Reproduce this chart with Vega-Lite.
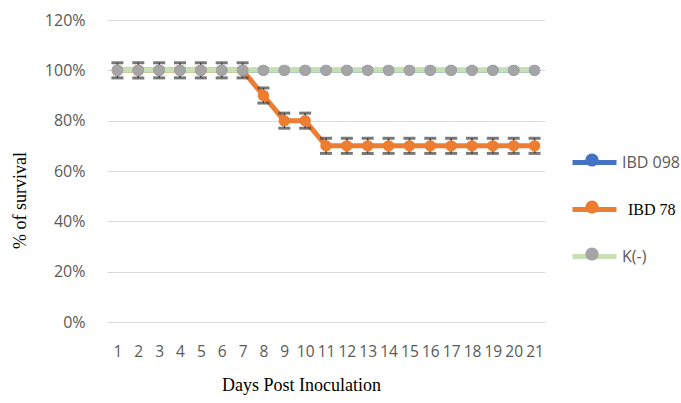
{
  "$schema": "https://vega.github.io/schema/vega-lite/v6.json",
  "width": 438,
  "height": 302,
  "autosize": "none",
  "padding": {"left": 107, "top": 20, "right": 136, "bottom": 81},
  "background": "white",
  "config": {"view": {"stroke": null}},
  "data": {"values": [
    {"day": 1, "series": "IBD 098", "value": 1.0}, {"day": 2, "series": "IBD 098", "value": 1.0}, {"day": 3, "series": "IBD 098", "value": 1.0},
    {"day": 4, "series": "IBD 098", "value": 1.0}, {"day": 5, "series": "IBD 098", "value": 1.0}, {"day": 6, "series": "IBD 098", "value": 1.0},
    {"day": 7, "series": "IBD 098", "value": 1.0}, {"day": 8, "series": "IBD 098", "value": 1.0}, {"day": 9, "series": "IBD 098", "value": 1.0},
    {"day": 10, "series": "IBD 098", "value": 1.0}, {"day": 11, "series": "IBD 098", "value": 1.0}, {"day": 12, "series": "IBD 098", "value": 1.0},
    {"day": 13, "series": "IBD 098", "value": 1.0}, {"day": 14, "series": "IBD 098", "value": 1.0}, {"day": 15, "series": "IBD 098", "value": 1.0},
    {"day": 16, "series": "IBD 098", "value": 1.0}, {"day": 17, "series": "IBD 098", "value": 1.0}, {"day": 18, "series": "IBD 098", "value": 1.0},
    {"day": 19, "series": "IBD 098", "value": 1.0}, {"day": 20, "series": "IBD 098", "value": 1.0}, {"day": 21, "series": "IBD 098", "value": 1.0},
    {"day": 1, "series": "IBD 78", "value": 1.0, "lo": 0.97, "hi": 1.03}, {"day": 2, "series": "IBD 78", "value": 1.0, "lo": 0.97, "hi": 1.03},
    {"day": 3, "series": "IBD 78", "value": 1.0, "lo": 0.97, "hi": 1.03}, {"day": 4, "series": "IBD 78", "value": 1.0, "lo": 0.97, "hi": 1.03},
    {"day": 5, "series": "IBD 78", "value": 1.0, "lo": 0.97, "hi": 1.03}, {"day": 6, "series": "IBD 78", "value": 1.0, "lo": 0.97, "hi": 1.03},
    {"day": 7, "series": "IBD 78", "value": 1.0, "lo": 0.97, "hi": 1.03}, {"day": 8, "series": "IBD 78", "value": 0.9, "lo": 0.87, "hi": 0.93},
    {"day": 9, "series": "IBD 78", "value": 0.8, "lo": 0.77, "hi": 0.83}, {"day": 10, "series": "IBD 78", "value": 0.8, "lo": 0.77, "hi": 0.83},
    {"day": 11, "series": "IBD 78", "value": 0.7, "lo": 0.67, "hi": 0.73}, {"day": 12, "series": "IBD 78", "value": 0.7, "lo": 0.67, "hi": 0.73},
    {"day": 13, "series": "IBD 78", "value": 0.7, "lo": 0.67, "hi": 0.73}, {"day": 14, "series": "IBD 78", "value": 0.7, "lo": 0.67, "hi": 0.73},
    {"day": 15, "series": "IBD 78", "value": 0.7, "lo": 0.67, "hi": 0.73}, {"day": 16, "series": "IBD 78", "value": 0.7, "lo": 0.67, "hi": 0.73},
    {"day": 17, "series": "IBD 78", "value": 0.7, "lo": 0.67, "hi": 0.73}, {"day": 18, "series": "IBD 78", "value": 0.7, "lo": 0.67, "hi": 0.73},
    {"day": 19, "series": "IBD 78", "value": 0.7, "lo": 0.67, "hi": 0.73}, {"day": 20, "series": "IBD 78", "value": 0.7, "lo": 0.67, "hi": 0.73},
    {"day": 21, "series": "IBD 78", "value": 0.7, "lo": 0.67, "hi": 0.73},
    {"day": 1, "series": "K(-)", "value": 1.0}, {"day": 2, "series": "K(-)", "value": 1.0}, {"day": 3, "series": "K(-)", "value": 1.0},
    {"day": 4, "series": "K(-)", "value": 1.0}, {"day": 5, "series": "K(-)", "value": 1.0}, {"day": 6, "series": "K(-)", "value": 1.0},
    {"day": 7, "series": "K(-)", "value": 1.0}, {"day": 8, "series": "K(-)", "value": 1.0}, {"day": 9, "series": "K(-)", "value": 1.0},
    {"day": 10, "series": "K(-)", "value": 1.0}, {"day": 11, "series": "K(-)", "value": 1.0}, {"day": 12, "series": "K(-)", "value": 1.0},
    {"day": 13, "series": "K(-)", "value": 1.0}, {"day": 14, "series": "K(-)", "value": 1.0}, {"day": 15, "series": "K(-)", "value": 1.0},
    {"day": 16, "series": "K(-)", "value": 1.0}, {"day": 17, "series": "K(-)", "value": 1.0}, {"day": 18, "series": "K(-)", "value": 1.0},
    {"day": 19, "series": "K(-)", "value": 1.0}, {"day": 20, "series": "K(-)", "value": 1.0}, {"day": 21, "series": "K(-)", "value": 1.0}
  ]},
  "encoding": {
    "x": {
      "field": "day", "type": "quantitative",
      "scale": {"domain": [0.5, 21.5], "nice": false, "zero": false},
      "axis": {
        "values": [1,2,3,4,5,6,7,8,9,10,11,12,13,14,15,16,17,18,19,20,21],
        "format": "d", "grid": false, "domain": false, "ticks": false,
        "labelOverlap": false, "labelFlush": false, "labelPadding": 22,
        "labelFont": "Open Sans", "labelFontSize": 15.5, "labelColor": "#595959",
        "title": "Days Post Inoculation", "titleFont": "Liberation Serif", "titleFontSize": 18,
        "titleFontWeight": "normal", "titleColor": "#000000", "titleX": 194, "titleY": 63, "titleBaseline": "middle"
      }
    },
    "y": {
      "field": "value", "type": "quantitative",
      "scale": {"domain": [0, 1.2], "nice": false},
      "axis": {
        "values": [0, 0.2, 0.4, 0.6, 0.8, 1.0, 1.2], "format": ".0%",
        "grid": true, "gridColor": "#D9D9D9", "gridWidth": 1.2, "domain": false, "ticks": false,
        "labelPadding": 22, "labelFont": "Open Sans", "labelFontSize": 16, "labelColor": "#595959",
        "title": "% of survival", "titleFont": "Liberation Serif", "titleFontSize": 18,
        "titleFontWeight": "normal", "titleColor": "#000000", "titleX": -87, "titleY": 180,
        "titleAngle": -90, "titleBaseline": "middle", "titleAlign": "center"
      }
    }
  },
  "layer": [
    {
      "transform": [{"filter": "datum.series === 'IBD 098'"}],
      "mark": {"type": "line", "strokeWidth": 5},
      "encoding": {"color": {"field": "series", "type": "nominal",
        "scale": {"range": ["#4472C4", "#ED7D31", "#C6E0B4"]},
        "legend": {"orient": "none", "legendX": 463, "legendY": 118, "title": null, "padding": 0,
          "symbolType": "M-1,0H1", "symbolSize": 1936, "symbolStrokeWidth": 5,
          "rowPadding": 12, "labelOffset": 3, "labelColor": "#000000", "labelFontSize": 16, "labelFont": "Open Sans",
          "encode": {"labels": {"update": {
            "font": {"signal": "datum.value === 'IBD 78' ? 'Liberation Serif' : 'Open Sans'"},
            "dx": {"signal": "datum.value === 'IBD 78' ? 6 : 0"},
            "fill": {"signal": "datum.value === 'IBD 78' ? '#000000' : '#595959'"}
          }}}
        }}}
    },
    {
      "transform": [{"filter": "datum.series === 'IBD 78'"}],
      "mark": {"type": "line", "strokeWidth": 5},
      "encoding": {"color": {"field": "series", "type": "nominal"}}
    },
    {
      "transform": [{"filter": "datum.series === 'K(-)'"}],
      "mark": {"type": "line", "strokeWidth": 5},
      "encoding": {"color": {"field": "series", "type": "nominal"}}
    },
    {
      "transform": [{"filter": "datum.series === 'IBD 78'"}],
      "mark": {"type": "errorbar", "color": "#404040", "ticks": {"size": 12, "thickness": 3}, "rule": {"strokeWidth": 1.5}},
      "encoding": {
        "y": {"field": "lo", "type": "quantitative", "title": "% of survival"},
        "y2": {"field": "hi"}
      }
    },
    {
      "transform": [{"filter": "datum.series === 'IBD 098'"}],
      "mark": {"type": "point", "filled": true, "size": 130, "opacity": 1, "strokeWidth": 0},
      "encoding": {"fill": {"field": "series", "type": "nominal",
        "scale": {"domain": ["IBD 098", "IBD 78", "K(-)"], "range": ["#4472C4", "#ED7D31", "#A5A5A5"]},
        "legend": {"orient": "none", "legendX": 463, "legendY": 118, "title": null, "padding": 0,
          "symbolType": "M0.3,0A0.3,0.3,0,1,1,-0.3,0A0.3,0.3,0,1,1,0.3,0Z", "symbolSize": 1936,
          "symbolStrokeWidth": 0, "symbolOpacity": 1,
          "rowPadding": 17, "labelOffset": 3, "labelFontSize": 16, "labelFont": "Open Sans",
          "encode": {
            "labels": {"update": {
              "font": {"signal": "datum.value === 'IBD 78' ? 'Liberation Serif' : 'Open Sans'"},
              "dx": {"signal": "datum.value === 'IBD 78' ? 6 : 0"},
              "opacity": {"value": 0}
            }}}
        }}}
    },
    {
      "transform": [{"filter": "datum.series === 'IBD 78'"}],
      "mark": {"type": "point", "filled": true, "size": 130, "opacity": 1, "strokeWidth": 0},
      "encoding": {"fill": {"field": "series", "type": "nominal"}}
    },
    {
      "transform": [{"filter": "datum.series === 'K(-)'"}],
      "mark": {"type": "point", "filled": true, "size": 130, "opacity": 1, "strokeWidth": 0},
      "encoding": {"fill": {"field": "series", "type": "nominal"}}
    }
  ]
}
